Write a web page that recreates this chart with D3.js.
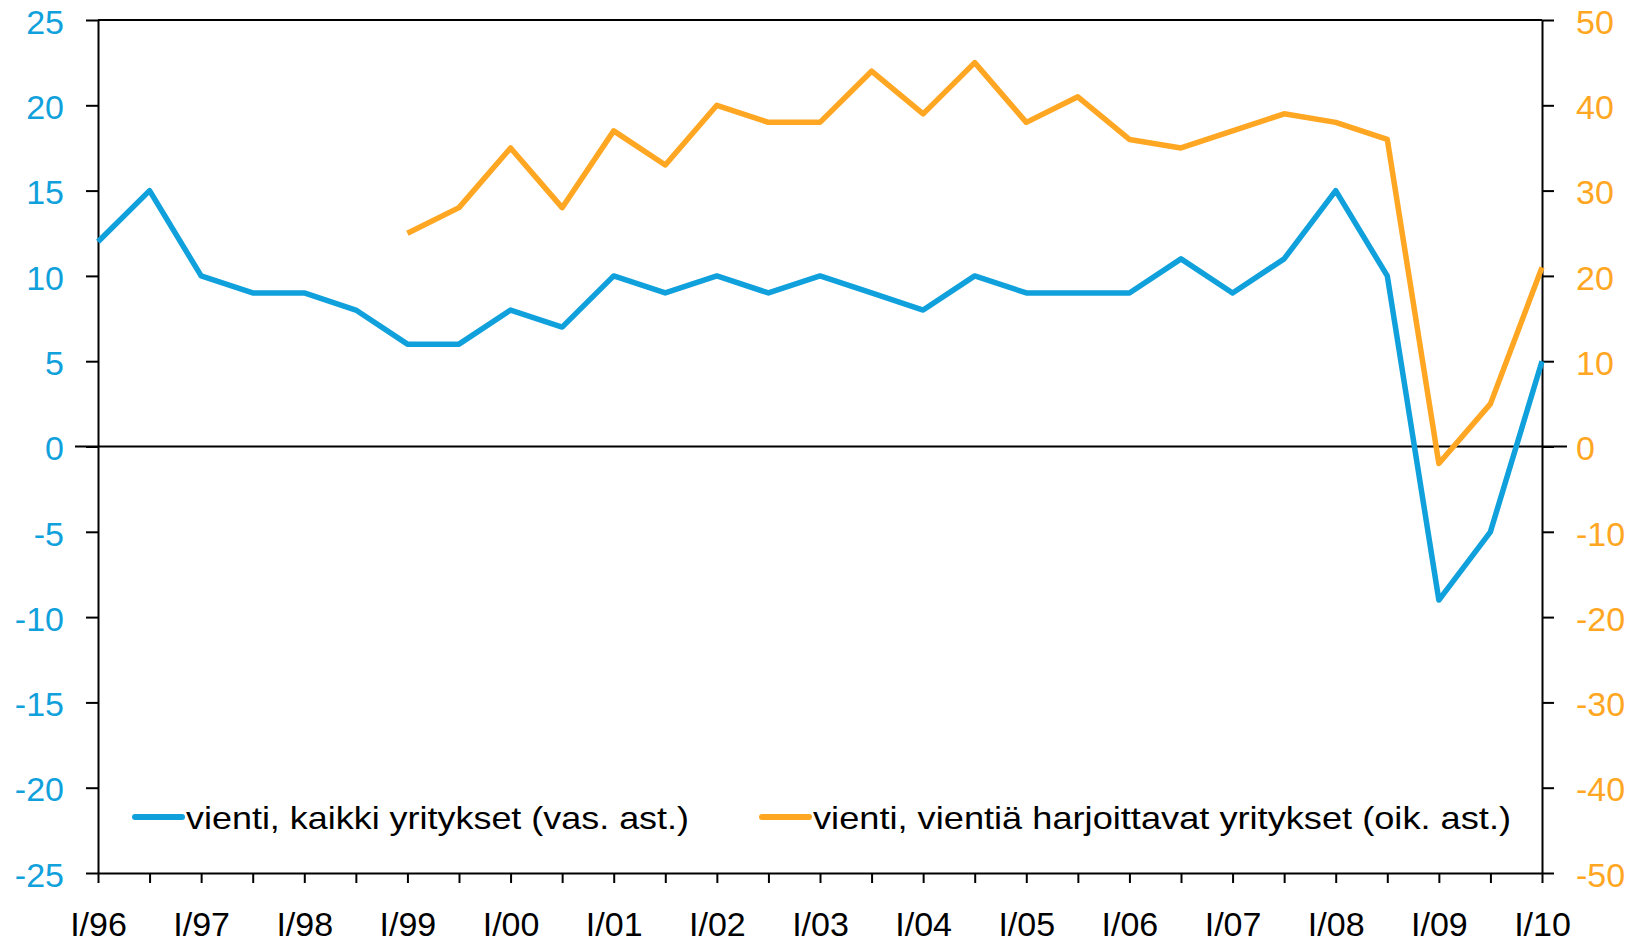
<!DOCTYPE html>
<html>
<head>
<meta charset="UTF-8">
<script src="https://d3js.org/d3.v7.min.js"></script>
<style>
  body { margin:0; background:#fff; }
  text { font-family: "Liberation Sans", Arial, sans-serif; }
  .axis .domain, .axis .tick line { stroke:#000; stroke-width:2; }
</style>
</head>
<body>
<div id="chart"></div>
<script>
// puolivuosittaiset havainnot I/96 ... I/10
var periods = ["I/96","III/96","I/97","III/97","I/98","III/98","I/99","III/99","I/00","III/00",
  "I/01","III/01","I/02","III/02","I/03","III/03","I/04","III/04","I/05","III/05",
  "I/06","III/06","I/07","III/07","I/08","III/08","I/09","III/09","I/10"]
// vienti, kaikki yritykset (vas. ast.)
var allFirms = [12,15,10,9,9,8,6,6,8,7,10,9,10,9,10,9,8,10,9,9,9,11,9,11,15,10,-9,-5,5]
// vienti, vientiä harjoittavat yritykset (oik. ast.)
var exporters = [null,null,null,null,null,null,25,28,35,28,37,33,40,38,38,44,39,45,38,41,36,35,37,39,38,36,-2,5,21]
var leftTicks = [-25,-20,-15,-10,-5,0,5,10,15,20,25]
var rightTicks = [-50,-40,-30,-20,-10,0,10,20,30,40,50]
var legendNames = ["vienti, kaikki yritykset (vas. ast.)","vienti, vientiä harjoittavat yritykset (oik. ast.)"]

var blue = "#10a1dc", orange = "#ffa622"
var width = 1641, height = 943
var pl = 98, pr = 1542, pt = 20, pb = 873
var plain = function(d){ return String(d) }   // tavallinen tavuviiva miinusmerkkinä

var svg = d3.select("#chart").append("svg")
  .attr("width", width).attr("height", height)

var x = d3.scaleLinear().domain([0, periods.length-1]).range([pl, pr])
var yL = d3.scaleLinear().domain([-25, 25]).range([pb, pt])
var yR = d3.scaleLinear().domain([-50, 50]).range([pb, pt])

// yläreuna
svg.append("line")
  .attr("x1", pl).attr("x2", pr).attr("y1", pt).attr("y2", pt)
  .attr("stroke", "#000").attr("stroke-width", 2)

// vasen akseli
var gL = svg.append("g").attr("class","axis")
  .attr("transform", "translate(" + pl + ",0)")
  .call(d3.axisLeft(yL).tickValues(leftTicks).tickFormat(plain).tickSize(12).tickSizeOuter(0).tickPadding(22))
gL.selectAll("text").attr("fill", blue).style("font-size","34px").attr("dy","0.39em")

// oikea akseli
var gR = svg.append("g").attr("class","axis")
  .attr("transform", "translate(" + pr + ",0)")
  .call(d3.axisRight(yR).tickValues(rightTicks).tickFormat(plain).tickSize(12).tickSizeOuter(0).tickPadding(22))
gR.selectAll("text").attr("fill", orange).style("font-size","34px").attr("dy","0.39em")

// x-akseli
var gX = svg.append("g").attr("class","axis")
  .attr("transform", "translate(0," + pb + ")")
  .call(d3.axisBottom(x).tickValues(d3.range(periods.length)).tickSize(10).tickSizeOuter(0).tickPadding(29)
    .tickFormat(function(i){ return periods[i].indexOf("I/")===0 ? periods[i] : "" }))
gX.selectAll("text").attr("fill", "#000").style("font-size","34px")

// nollaviiva
svg.append("line")
  .attr("x1", 75).attr("x2", 1567).attr("y1", yL(0)).attr("y2", yL(0))
  .attr("stroke", "#000").attr("stroke-width", 2)

var lineL = d3.line().x(function(d,i){ return x(i) }).y(function(d){ return yL(d) })
var lineR = d3.line().defined(function(d){ return d !== null })
  .x(function(d,i){ return x(i) }).y(function(d){ return yR(d) })

svg.append("path").attr("d", lineR(exporters))
  .attr("fill","none").attr("stroke", orange).attr("stroke-width", 5.5).attr("stroke-linejoin","round")
svg.append("path").attr("d", lineL(allFirms))
  .attr("fill","none").attr("stroke", blue).attr("stroke-width", 5.5).attr("stroke-linejoin","round")

// selite
var legend = [
  {name: legendNames[0], color: blue, x0: 135, len: 503},
  {name: legendNames[1], color: orange, x0: 762, len: 698}
]
legend.forEach(function(l){
  svg.append("line").attr("x1", l.x0).attr("x2", l.x0 + 47).attr("y1", 817).attr("y2", 817)
    .attr("stroke", l.color).attr("stroke-width", 6).attr("stroke-linecap","round")
  svg.append("text").attr("x", l.x0 + 51).attr("y", 829).text(l.name)
    .style("font-size","32px").attr("fill","#000")
    .attr("textLength", l.len).attr("lengthAdjust","spacingAndGlyphs")
})
</script>
</body>
</html>
